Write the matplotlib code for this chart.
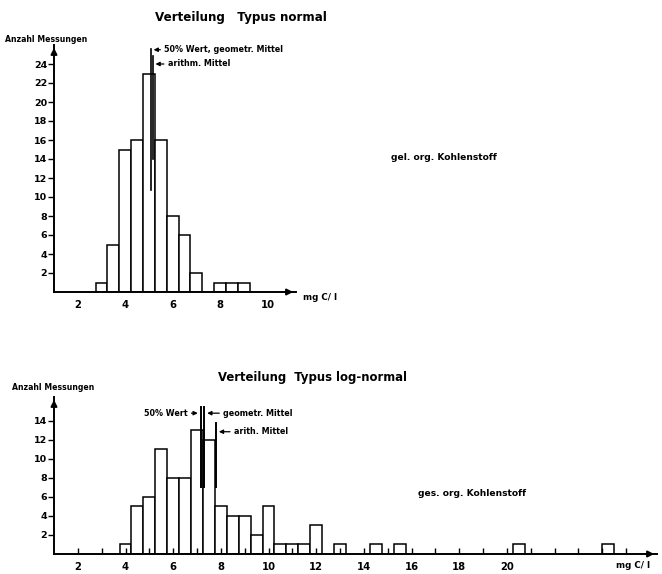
import matplotlib
matplotlib.use("Agg")
import matplotlib.pyplot as plt

# Verteilung Typus normal (gel. org. Kohlenstoff), Klassenbreite 0.5 mg C/l
normal_centers = [3.0, 3.5, 4.0, 4.5, 5.0, 5.5, 6.0, 6.5, 7.0, 8.0, 8.5, 9.0]
normal_counts = [1, 5, 15, 16, 23, 16, 8, 6, 2, 1, 1, 1]
normal_median = 5.08      # 50% Wert, geometr. Mittel
normal_arith = 5.16       # arithm. Mittel
normal_yticks = [2, 4, 6, 8, 10, 12, 14, 16, 18, 20, 22, 24]
normal_xticks = [2, 4, 6, 8, 10]

# Verteilung Typus log-normal (ges. org. Kohlenstoff)
lognorm_centers = [4.0, 4.5, 5.0, 5.5, 6.0, 6.5, 7.0, 7.5, 8.0, 8.5, 9.0, 9.5,
                   10.0, 10.5, 11.0, 11.5, 12.0, 13.0, 14.5, 15.5, 20.5, 24.25]
lognorm_counts = [1, 5, 6, 11, 8, 8, 13, 12, 5, 4, 4, 2,
                  5, 1, 1, 1, 3, 1, 1, 1, 1, 1]
lognorm_median = 7.15     # 50% Wert
lognorm_geo = 7.31        # geometr. Mittel
lognorm_arith = 7.80      # arithm. Mittel
lognorm_yticks = [2, 4, 6, 8, 10, 12, 14]
lognorm_xticks = [2, 4, 6, 8, 10, 12, 14, 16, 18, 20]

FONT = "DejaVu Sans"
W, H = 662, 574


def px_axes(fig, left, top, right, bottom):
    # axes placed by pixel edges
    return fig.add_axes([left / W, 1 - bottom / H, (right - left) / W, (bottom - top) / H])


def style_axes(ax, xlim, ylim, xticks, yticks, minor):
    ax.set_xlim(*xlim)
    ax.set_ylim(*ylim)
    for s in ["top", "right"]:
        ax.spines[s].set_visible(False)
    for s in ["left", "bottom"]:
        ax.spines[s].set_linewidth(1.4)
    ax.set_yticks(yticks)
    ax.set_yticklabels([str(t) for t in yticks], fontsize=6.8, fontweight="bold", family=FONT)
    ax.tick_params(axis="y", length=4, width=1.0, pad=1)
    ax.set_xticks(xticks)
    ax.set_xticklabels([str(t) for t in xticks], fontsize=7.2, fontweight="bold", family=FONT)
    if minor:
        ax.set_xticks(minor, minor=True)
        ax.tick_params(axis="x", which="both", direction="in", length=4, width=1.0, pad=6)
    else:
        ax.tick_params(axis="x", length=0, pad=6)
    ax.patch.set_alpha(0)
    # arrow heads at the ends of both axes
    ax.annotate("", xy=(xlim[1], 0), xytext=(xlim[1] - 0.6, 0),
                arrowprops=dict(arrowstyle="-|>", color="black", lw=1.4, mutation_scale=9),
                annotation_clip=False)
    ax.annotate("", xy=(xlim[0], ylim[1]), xytext=(xlim[0], ylim[1] - 1.0),
                arrowprops=dict(arrowstyle="-|>", color="black", lw=1.4, mutation_scale=9),
                annotation_clip=False)


def pointer(ax, label, x_line, y, x_text, ha):
    ax.annotate("", xy=(x_line, y), xytext=(x_text, y),
                arrowprops=dict(arrowstyle="-|>", color="black", lw=0.9, mutation_scale=6))
    off = 0.04 if ha == "left" else -0.04
    ax.text(x_text + off, y, label, ha=ha, va="center", fontsize=5.8,
            fontweight="bold", family=FONT)


fig = plt.figure(figsize=(W / 100, H / 100), dpi=100)
fig.patch.set_facecolor("white")

# --- oberes Diagramm: Typus normal ---
ax1 = px_axes(fig, 54, 45, 296, 292)
ax1.bar(normal_centers, normal_counts, width=0.5, color="white",
        edgecolor="black", linewidth=1.1)
style_axes(ax1, (1.0, 11.2), (0, 26), normal_xticks, normal_yticks, None)
ax1.plot([normal_median, normal_median], [10.7, 25.6], color="black", lw=1.2)
ax1.plot([normal_arith, normal_arith], [14.0, 24.8], color="black", lw=1.2)
pointer(ax1, "50% Wert, geometr. Mittel", normal_median, 25.5, 5.6, "left")
pointer(ax1, "arithm. Mittel", normal_arith, 24.0, 5.75, "left")

# --- unteres Diagramm: Typus log-normal ---
ax2 = px_axes(fig, 54, 397, 657, 554)
ax2.bar(lognorm_centers, lognorm_counts, width=0.5, color="white",
        edgecolor="black", linewidth=1.1)
style_axes(ax2, (1.0, 26.3), (0, 16.5), lognorm_xticks, lognorm_yticks,
           list(range(2, 26)))
ax2.plot([lognorm_median, lognorm_median], [7.0, 15.5], color="black", lw=1.4)
ax2.plot([lognorm_geo, lognorm_geo], [7.0, 15.5], color="black", lw=1.4)
ax2.plot([lognorm_arith, lognorm_arith], [7.0, 13.8], color="black", lw=1.4)
pointer(ax2, "50% Wert", lognorm_median, 14.8, 6.65, "right")
pointer(ax2, "geometr. Mittel", lognorm_geo, 14.8, 8.05, "left")
pointer(ax2, "arith. Mittel", lognorm_arith, 12.85, 8.5, "left")

# Beschriftungen
txt = dict(family=FONT, fontweight="bold", color="black")
fig.text(241 / W, 1 - 17 / H, "Verteilung   Typus normal", ha="center", va="center", fontsize=8.6, **txt)
fig.text(5 / W, 1 - 40 / H, "Anzahl Messungen", ha="left", va="center", fontsize=5.6, **txt)
fig.text(391 / W, 1 - 157 / H, "gel. org. Kohlenstoff", ha="left", va="center", fontsize=6.6, **txt)
fig.text(303 / W, 1 - 297 / H, "mg C/ l", ha="left", va="center", fontsize=6.3, **txt)

fig.text(312 / W, 1 - 377 / H, "Verteilung  Typus log-normal", ha="center", va="center", fontsize=8.4, **txt)
fig.text(12 / W, 1 - 388 / H, "Anzahl Messungen", ha="left", va="center", fontsize=5.6, **txt)
fig.text(418 / W, 1 - 493 / H, "ges. org. Kohlenstoff", ha="left", va="center", fontsize=6.6, **txt)
fig.text(616 / W, 1 - 566 / H, "mg C/ l", ha="left", va="center", fontsize=6.3, **txt)

fig.savefig("out.png", dpi=100, facecolor="white")
